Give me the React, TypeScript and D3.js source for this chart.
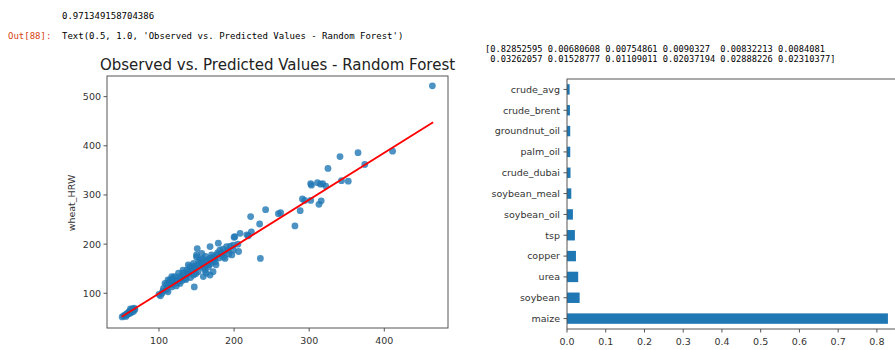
import React from "react";
import * as d3 from "d3";

// ---- Output texts ----
const scoreText = "0.971349158704386";
const outPrompt = "Out[88]:";
const outText = "Text(0.5, 1.0, 'Observed vs. Predicted Values - Random Forest')";
const arrayLines = [
  "[0.82852595 0.00680608 0.00754861 0.0090327  0.00832213 0.0084081",
  " 0.03262057 0.01528777 0.01109011 0.02037194 0.02888226 0.02310377]",
];

// ---- Scatter data ----
const scatterTitle = "Observed vs. Predicted Values - Random Forest";
const yLabel = "wheat_HRW";
const predicted = [
  51, 53, 55, 56, 57, 58, 59, 60, 61, 62, 63, 64, 65, 66, 67, 68, 62,
  100, 102, 104, 105, 147,
  108, 112, 117, 119, 128, 132, 137, 141, 146, 150, 155, 159, 163, 168, 172, 177, 172, 179, 190, 188, 199, 201, 208, 197, 206, 151, 168, 181, 186, 157, 150, 139, 132, 126, 121, 115, 110, 106, 115, 124, 130, 139, 143, 148, 155, 161, 166, 170, 175, 163, 168, 159, 152, 146, 135, 128, 121, 117, 110, 112,
  140, 144, 147, 152, 156, 158, 162, 165, 170, 174, 178, 183, 185, 192, 195, 186, 180, 176, 160, 153, 149, 142, 137, 133, 125, 120, 114, 118, 123, 131, 136, 166, 171, 162,
  200, 217, 223, 219, 199, 205, 193, 235, 234, 242, 222, 259, 262, 281, 288, 291, 294, 302, 316, 313, 302, 303, 311, 318, 322, 315, 325, 343, 352, 341, 365, 374, 411, 464,
];
const observed = [
  52, 54, 56, 53, 58, 57, 60, 62, 59, 64, 61, 66, 68, 63, 70, 67, 68,
  98, 95, 100, 104, 113,
  120, 127, 134, 131, 134, 141, 147, 154, 161, 174, 168, 161, 164, 171, 174, 178, 144, 202, 195, 171, 188, 215, 222, 178, 185, 191, 195, 188, 174, 181, 178, 158, 147, 141, 134, 127, 117, 110, 117, 127, 130, 141, 144, 151, 154, 147, 154, 161, 164, 141, 137, 134, 144, 137, 130, 120, 120, 113, 107, 103,
  145, 150, 155, 158, 162, 170, 175, 168, 178, 170, 182, 180, 190, 188, 196, 182, 172, 158, 152, 165, 140, 132, 138, 135, 122, 125, 122, 128, 115, 126, 128, 158, 166, 158,
  214, 219, 225, 217, 198, 200, 180, 171, 241, 270, 256, 262, 264, 237, 268, 292, 289, 289, 288, 281, 323, 320, 325, 323, 318, 322, 354, 329, 328, 378, 386, 362, 389, 522,
];
const fitX = [50.4, 465];
const fitY = [52.4, 448];
const scatterXTicks = [100, 200, 300, 400];
const scatterYTicks = [100, 200, 300, 400, 500];

// ---- Feature importance data (top to bottom) ----
const features = [
  "crude_avg", "crude_brent", "groundnut_oil", "palm_oil", "crude_dubai", "soybean_meal",
  "soybean_oil", "tsp", "copper", "urea", "soybean", "maize",
];
const importances = [
  0.00680608, 0.00754861, 0.00832213, 0.0084081, 0.0090327, 0.01109011,
  0.01528777, 0.02037194, 0.02310377, 0.02888226, 0.03262057, 0.82852595,
];
const barXTicks = [0, 0.1, 0.2, 0.3, 0.4, 0.5, 0.6, 0.7, 0.8];

const BLUE = "#1f77b4";
const SANS = "DejaVu Sans, sans-serif";
const MONO = "DejaVu Sans Mono, monospace";
const AX = "#555";
const TXT = "#333";

export default function App() {
  // scatter scales
  const sx = d3.scaleLinear().domain([30.8, 484.8]).range([107, 448]);
  const sy = d3.scaleLinear().domain([29.4, 542]).range([328, 76]);
  const line = d3.line<number>().x((d, i) => sx(fitX[i])).y((d, i) => sy(fitY[i]));

  // bar scales
  const bx = d3.scaleLinear().domain([0, 0.87]).range([567, 904]);
  const by = d3.scaleBand<string>().domain(features).range([79, 329]).paddingInner(0.5).paddingOuter(0.25);

  return (
    <svg width={895} height={350} style={{ position: "absolute", left: 0, top: 0, background: "#fff" }}>
      {/* notebook text */}
      <text x={62} y={19} fontFamily={MONO} fontSize={9} fill="#000">{scoreText}</text>
      <text x={8} y={39} fontFamily={MONO} fontSize={9} fill="#D84315">{outPrompt}</text>
      <text x={62} y={39} fontFamily={MONO} fontSize={9} fill="#000" style={{ whiteSpace: "pre" }}>{outText}</text>
      {arrayLines.map((l, i) => (
        <text key={i} x={485} y={52 + i * 10} fontFamily={MONO} fontSize={8.7} fill="#000" style={{ whiteSpace: "pre" }}>{l}</text>
      ))}

      {/* scatter */}
      <text x={(sx.range()[0] + sx.range()[1]) / 2} y={70} textAnchor="middle" fontFamily={SANS} fontSize={15} fill="#222">{scatterTitle}</text>
      <g>
        {predicted.map((p, i) => (
          <circle key={i} cx={sx(p)} cy={sy(observed[i])} r={3.4} fill={BLUE} fillOpacity={0.8} />
        ))}
        <path d={line(fitX) || ""} stroke="#ff0000" strokeWidth={1.8} fill="none" />
      </g>
      <rect x={107} y={76} width={341} height={252} fill="none" stroke={AX} strokeWidth={1} />
      {scatterXTicks.map((t) => (
        <g key={t}>
          <line x1={sx(t)} x2={sx(t)} y1={328} y2={331.5} stroke={AX} />
          <text x={sx(t)} y={344} textAnchor="middle" fontFamily={SANS} fontSize={9.5} fill={TXT}>{t}</text>
        </g>
      ))}
      {scatterYTicks.map((t) => (
        <g key={t}>
          <line x1={103.5} x2={107} y1={sy(t)} y2={sy(t)} stroke={AX} />
          <text x={101} y={sy(t) + 3.4} textAnchor="end" fontFamily={SANS} fontSize={9.5} fill={TXT}>{t}</text>
        </g>
      ))}
      <text transform={`translate(75,203) rotate(-90)`} textAnchor="middle" fontFamily={SANS} fontSize={9.5} fill={TXT}>{yLabel}</text>

      {/* bar chart */}
      {features.map((f, i) => (
        <rect key={f} x={bx(0)} y={by(f)!} width={bx(importances[i]) - bx(0)} height={by.bandwidth()} fill={BLUE} />
      ))}
      <rect x={567} y={79} width={337} height={250} fill="none" stroke={AX} strokeWidth={1} />
      {features.map((f) => (
        <g key={f}>
          <line x1={563.5} x2={567} y1={by(f)! + by.bandwidth() / 2} y2={by(f)! + by.bandwidth() / 2} stroke={AX} />
          <text x={560} y={by(f)! + by.bandwidth() / 2 + 3.4} textAnchor="end" fontFamily={SANS} fontSize={9.5} fill={TXT}>{f}</text>
        </g>
      ))}
      {barXTicks.map((t) => (
        <g key={t}>
          <line x1={bx(t)} x2={bx(t)} y1={329} y2={332.5} stroke={AX} />
          <text x={bx(t)} y={345} textAnchor="middle" fontFamily={SANS} fontSize={9.5} fill={TXT}>{t.toFixed(1)}</text>
        </g>
      ))}
    </svg>
  );
}
